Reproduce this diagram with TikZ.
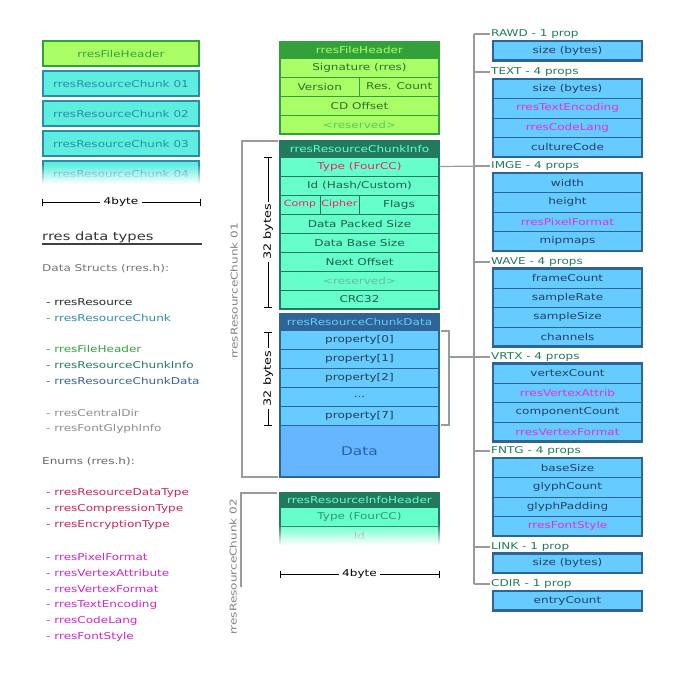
\documentclass[tikz,border=0pt]{standalone}
\usepackage{fontspec}
\setmainfont{DejaVu Sans}[FakeStretch=1.28]
\usetikzlibrary{fadings,arrows.meta}
\definecolor{fhfill}{HTML}{AAFF66}
\definecolor{fhdark}{HTML}{33A13B}
\definecolor{fhtext}{HTML}{2B6E2B}
\definecolor{fhres}{HTML}{55CC55}
\definecolor{chfill}{HTML}{5EEEDF}
\definecolor{chdark}{HTML}{2A8CA8}
\definecolor{cifill}{HTML}{66FFCC}
\definecolor{cidark}{HTML}{227A5E}
\definecolor{citext}{HTML}{1D5E48}
\definecolor{cires}{HTML}{66BB99}
\definecolor{crim}{HTML}{EE2266}
\definecolor{cdfill}{HTML}{66CCFF}
\definecolor{cddark}{HTML}{2F6496}
\definecolor{cdtext}{HTML}{1F3D5C}
\definecolor{cdbig}{HTML}{66B5FF}
\definecolor{cdbigtext}{HTML}{2A5FB0}
\definecolor{magen}{HTML}{E030E0}
\definecolor{lblgreen}{HTML}{1F7A5A}
\definecolor{brgray}{HTML}{9A9A9A}
\definecolor{enumcrim}{HTML}{CC2060}
\definecolor{enummag}{HTML}{D020D0}
\definecolor{ptext}{HTML}{1F3F6A}
\begin{document}
\begin{tikzpicture}[x=1pt,y=-1pt,font=\fontsize{9.4}{10}\selectfont,
  lbox/.style={draw,line width=2.5pt,minimum width=156pt,minimum height=25pt,inner sep=0pt},
  trow/.style={draw,line width=0.8pt,minimum width=159pt,minimum height=19pt,inner sep=0pt},
  thead/.style={minimum width=159pt,minimum height=16pt,inner sep=0pt},
  prow/.style={draw=cddark,fill=cdfill,text=ptext,line width=0.8pt,minimum width=149pt,minimum height=19.5pt,inner sep=0pt},
  pborder/.style={draw=cddark,line width=2.5pt},
  plabel/.style={anchor=west,text=lblgreen,inner sep=1pt},
  litem/.style={anchor=west,inner sep=0pt},
  brline/.style={draw=brgray,line width=1.2pt},
  dimline/.style={draw=black,line width=1pt},
  tick/.style={draw=black,line width=1pt}]
\useasboundingbox (0,0) rectangle (680,680);

% ---------------- left column boxes
\node[lbox,fill=fhfill,draw=fhdark,text=fhdark] (lfh) at (121,53.5) {rresFileHeader};
\node[lbox,fill=chfill,draw=chdark,text=chdark] (lc1) at (121,83.5) {rresResourceChunk 01};
\node[lbox,fill=chfill,draw=chdark,text=chdark] (lc2) at (121,113.5) {rresResourceChunk 02};
\node[lbox,fill=chfill,draw=chdark,text=chdark] (lc3) at (121,143.5) {rresResourceChunk 03};
\node[lbox,fill=chfill,draw=chdark,text=chdark] (lc4) at (121,173.5) {rresResourceChunk 04};
\fill[white,path fading=north] (38,164) rectangle (204,184);
\fill[white] (38,184) rectangle (204,190);

\node (lfour) at (121,202) {4byte};
\coordinate (lfa) at (42,202);
\coordinate (lfb) at (200,202);
\draw[dimline] (lfa) -- (lfour.west);
\draw[dimline] (lfour.east) -- (lfb);
\draw[tick] (42,198.5) -- (42,205.5);
\draw[tick] (200,198.5) -- (200,205.5);

% ---------------- left column text
\node[litem,text=black!80,font=\fontsize{11.5}{12}\selectfont] (ttl) at (42,237) {rres data types};
\draw[draw=black!75,line width=1.2pt] (42,244) -- (202,244);
\node[litem,text=black!55] (ds) at (42,269) {Data Structs (rres.h):};
\node[litem,text=black!85] (d1) at (46,302) {- rresResource};
\node[litem,text=chdark] (d2) at (46,318) {- rresResourceChunk};
\node[litem,text=fhdark] (d3) at (46,349) {- rresFileHeader};
\node[litem,text=cidark] (d4) at (46,365) {- rresResourceChunkInfo};
\node[litem,text=cddark] (d5) at (46,381) {- rresResourceChunkData};
\node[litem,text=black!45] (d6) at (46,413) {- rresCentralDir};
\node[litem,text=black!45] (d7) at (46,429) {- rresFontGlyphInfo};
\node[litem,text=black!60] (en) at (42,462) {Enums (rres.h):};
\node[litem,text=enumcrim] (e1) at (46,493) {- rresResourceDataType};
\node[litem,text=enumcrim] (e2) at (46,509) {- rresCompressionType};
\node[litem,text=enumcrim] (e3) at (46,525) {- rresEncryptionType};
\node[litem,text=enummag] (e4) at (46,557) {- rresPixelFormat};
\node[litem,text=enummag] (e5) at (46,573) {- rresVertexAttribute};
\node[litem,text=enummag] (e6) at (46,589) {- rresVertexFormat};
\node[litem,text=enummag] (e7) at (46,605) {- rresTextEncoding};
\node[litem,text=enummag] (e8) at (46,621) {- rresCodeLang};
\node[litem,text=enummag] (e9) at (46,637) {- rresFontStyle};

% ---------------- rresFileHeader table
\node[thead,fill=fhdark,text=fhfill] (fhh) at (359.5,50) {rresFileHeader};
\node[trow,fill=fhfill,draw=fhdark,text=fhtext] (fsig) at (359.5,67.5) {Signature (rres)};
\node[trow,fill=fhfill,draw=fhdark,text=fhtext,minimum width=79.5pt] (fver) at (319.75,86.5) {Version};
\node[trow,fill=fhfill,draw=fhdark,text=fhtext,minimum width=79.5pt] (fcnt) at (399.25,86.5) {Res. Count};
\node[trow,fill=fhfill,draw=fhdark,text=fhtext] (fcd) at (359.5,105.5) {CD Offset};
\node[trow,fill=fhfill,draw=fhdark,text=fhres] (fres) at (359.5,124.5) {<reserved>};
\draw[fhdark,line width=2.5pt] (280,42) rectangle (439,134);

% ---------------- rresResourceChunkInfo table
\node[thead,fill=cidark,text=cifill] (cih) at (359.5,149) {rresResourceChunkInfo};
\node[trow,fill=cifill,draw=cidark,text=crim] (itype) at (359.5,166.5) {Type (FourCC)};
\node[trow,fill=cifill,draw=cidark,text=citext] (iid) at (359.5,185.5) {Id (Hash/Custom)};
\node[trow,fill=cifill,draw=cidark,text=crim,minimum width=40pt,font=\fontsize{8.6}{9}\selectfont] (icomp) at (300,204.5) {Comp};
\node[trow,fill=cifill,draw=cidark,text=crim,minimum width=39pt,font=\fontsize{8.6}{9}\selectfont] (iciph) at (339.5,204.5) {Cipher};
\node[trow,fill=cifill,draw=cidark,text=citext,minimum width=80pt] (iflag) at (399,204.5) {Flags};
\node[trow,fill=cifill,draw=cidark,text=citext] (ipack) at (359.5,223.5) {Data Packed Size};
\node[trow,fill=cifill,draw=cidark,text=citext] (ibase) at (359.5,242.5) {Data Base Size};
\node[trow,fill=cifill,draw=cidark,text=citext] (inext) at (359.5,261.5) {Next Offset};
\node[trow,fill=cifill,draw=cidark,text=cires] (ires) at (359.5,280.5) {<reserved>};
\node[trow,fill=cifill,draw=cidark,text=citext] (icrc) at (359.5,299.5) {CRC32};
\draw[cidark,line width=2.5pt] (280,141) rectangle (439,309);

% ---------------- rresResourceChunkData table
\node[thead,fill=cddark,text=cdfill] (cdh) at (359.5,322) {rresResourceChunkData};
\node[trow,fill=cdfill,draw=cddark,text=cdtext] (p0) at (359.5,339.5) {property[0]};
\node[trow,fill=cdfill,draw=cddark,text=cdtext] (p1) at (359.5,358.5) {property[1]};
\node[trow,fill=cdfill,draw=cddark,text=cdtext] (p2) at (359.5,377.5) {property[2]};
\node[trow,fill=cdfill,draw=cddark,text=cdtext] (p3) at (359.5,396.5) {...};
\node[trow,fill=cdfill,draw=cddark,text=cdtext] (p7) at (359.5,415.5) {property[7]};
\node[trow,fill=cdbig,draw=cddark,text=cdbigtext,minimum height=52pt,font=\fontsize{12}{13}\selectfont] (pdata) at (359.5,451) {Data};
\draw[cddark,line width=2.5pt] (280,314) rectangle (439,477);

% ---------------- 32 bytes dimensions
\node[rotate=90,fill=white,inner sep=2pt,font=\fontsize{10}{11}\selectfont] (b32a) at (268,232) {32 bytes};
\coordinate (b32at) at (268,157);
\coordinate (b32ab) at (268,307);
\draw[dimline] (b32at) -- (b32a.east);
\draw[dimline] (b32a.west) -- (b32ab);
\draw[tick] (264,157) -- (272,157);
\draw[tick] (264,307) -- (272,307);

\node[rotate=90,fill=white,inner sep=2pt,font=\fontsize{10}{11}\selectfont] (b32b) at (268,378.5) {32 bytes};
\coordinate (b32bt) at (268,332);
\coordinate (b32bb) at (268,425);
\draw[dimline] (b32bt) -- (b32b.east);
\draw[dimline] (b32b.west) -- (b32bb);
\draw[tick] (264,332) -- (272,332);
\draw[tick] (264,425) -- (272,425);

% ---------------- chunk brackets
\draw[brline] (278,141) -- (242,141) -- (242,477) -- (278,477);
\node[rotate=90,text=black!50] (ch1) at (234,291) {rresResourceChunk 01};
\draw[brline] (277,493) -- (241,493) -- (241,587);
\node[rotate=90,text=black!50] (ch2) at (233,567) {rresResourceChunk 02};

% ---------------- rresResourceInfoHeader (faded)
\node[thead,fill=cidark,text=cifill,minimum height=14pt] (rih) at (359.5,500) {rresResourceInfoHeader};
\node[trow,fill=cifill,draw=cidark,text=cidark!80!cifill] (rtype) at (359.5,516.5) {Type (FourCC)};
\node[trow,fill=cifill,draw=cidark,text=black!50] (rid) at (359.5,535.5) {Id};
\draw[cidark,line width=2.5pt] (280,545) -- (280,493) -- (439,493) -- (439,545);
\fill[white,path fading=north] (276,524) rectangle (443,545);
\fill[white] (276,545) rectangle (443,550);

\node (bfour) at (359.5,574) {4byte};
\coordinate (bfa) at (280,574);
\coordinate (bfb) at (439,574);
\draw[dimline] (bfa) -- (bfour.west);
\draw[dimline] (bfour.east) -- (bfb);
\draw[tick] (280,570.5) -- (280,577.5);
\draw[tick] (439,570.5) -- (439,577.5);

% ---------------- right column tree
\node[plabel] (lraw) at (490,34) {RAWD - 1 prop};
\node[plabel] (ltxt) at (490,72) {TEXT - 4 props};
\node[plabel] (limg) at (490,166) {IMGE - 4 props};
\node[plabel] (lwav) at (490,262) {WAVE - 4 props};
\node[plabel] (lvtx) at (490,357) {VRTX - 4 props};
\node[plabel] (lfnt) at (490,451) {FNTG - 4 props};
\node[plabel] (llnk) at (490,547) {LINK - 1 prop};
\node[plabel] (lcdr) at (490,584) {CDIR - 1 prop};

\coordinate (trtop) at (474,34);
\coordinate (trbot) at (474,584);
\draw[brline] (trtop) -- (trbot);
\foreach \n in {lraw,ltxt,limg,lwav,lfnt,llnk,lcdr}
  \draw[brline] (474,0 |- \n.west) -- (\n.west);

% data bracket
\coordinate (dbt) at (441,331);
\coordinate (dbb) at (441,425);
\coordinate (dbm) at (449,357);
\draw[brline] (dbt) -- (449,331) -- (449,425) -- (dbb);
\draw[brline] (dbm) -- (lvtx.west);
\draw[brline] (itype.east) -- (limg.west);

% RAWD
\node[prow] (raw1) at (567.5,50.75) {size (bytes)};
\draw[pborder] (493,41) rectangle (642,60.5);
% TEXT
\node[prow] (txt1) at (567.5,88.75) {size (bytes)};
\node[prow,text=magen] (txt2) at (567.5,108.25) {rresTextEncoding};
\node[prow,text=magen] (txt3) at (567.5,127.75) {rresCodeLang};
\node[prow] (txt4) at (567.5,147.25) {cultureCode};
\draw[pborder] (493,79) rectangle (642,157);
% IMGE
\node[prow] (img1) at (567.5,182.75) {width};
\node[prow] (img2) at (567.5,202.25) {height};
\node[prow,text=magen] (img3) at (567.5,221.75) {rresPixelFormat};
\node[prow] (img4) at (567.5,241.25) {mipmaps};
\draw[pborder] (493,173) rectangle (642,251);
% WAVE
\node[prow] (wav1) at (567.5,278.25) {frameCount};
\node[prow] (wav2) at (567.5,297.75) {sampleRate};
\node[prow] (wav3) at (567.5,317.25) {sampleSize};
\node[prow] (wav4) at (567.5,336.75) {channels};
\draw[pborder] (493,268.5) rectangle (642,346.5);
% VRTX
\node[prow] (vtx1) at (567.5,373.25) {vertexCount};
\node[prow,text=magen] (vtx2) at (567.5,392.75) {rresVertexAttrib};
\node[prow] (vtx3) at (567.5,412.25) {componentCount};
\node[prow,text=magen] (vtx4) at (567.5,431.75) {rresVertexFormat};
\draw[pborder] (493,363.5) rectangle (642,441.5);
% FNTG
\node[prow] (fnt1) at (567.5,467.75) {baseSize};
\node[prow] (fnt2) at (567.5,487.25) {glyphCount};
\node[prow] (fnt3) at (567.5,506.75) {glyphPadding};
\node[prow,text=magen] (fnt4) at (567.5,526.25) {rresFontStyle};
\draw[pborder] (493,458) rectangle (642,536);
% LINK
\node[prow] (lnk1) at (567.5,563.25) {size (bytes)};
\draw[pborder] (493,553.5) rectangle (642,573);
% CDIR
\node[prow] (cdr1) at (567.5,600.75) {entryCount};
\draw[pborder] (493,591) rectangle (642,610.5);
\end{tikzpicture}
\end{document}
